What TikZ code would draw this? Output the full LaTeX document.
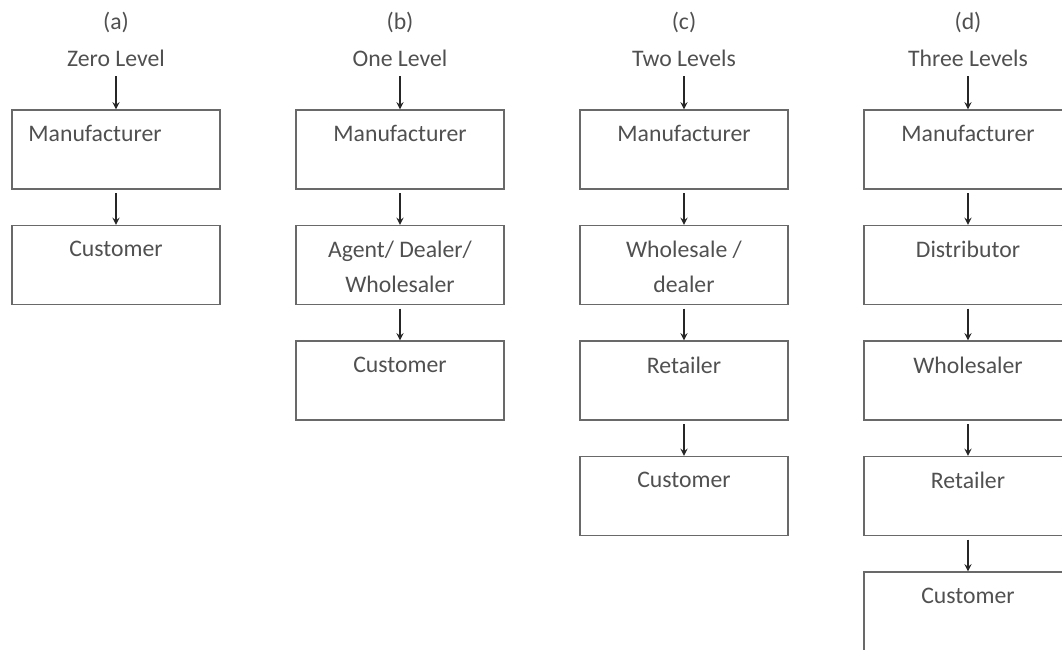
\documentclass[tikz,border=0pt]{standalone}
\usepackage{fontspec}
\setmainfont{Carlito}
\usepackage{tikz}
\usetikzlibrary{arrows,shapes}
\definecolor{grisLinea}{RGB}{105,105,105}
\definecolor{grisTexto}{RGB}{80,80,80}
\tikzstyle{edge}  =[->, >=stealth, shorten <=2pt,
                    line width=0.8pt, black!85]
\tikzstyle{chan}  =[rectangle, draw=grisLinea, line width=0.8pt,
                    minimum width=4.16cm, minimum height=1.58cm,
                    inner sep=0pt]
\tikzstyle{lbl}   =[anchor=north, inner sep=0pt, yshift=-0.32cm,
                    align=center, text=grisTexto]
\tikzstyle{head}  =[text=grisTexto]

\begin{document}
\begin{tikzpicture}[font=\fontsize{13.5}{20}\selectfont]
    \clip (0,0) rectangle (21.24,-13);

    % (a) zero level
    \begin{scope}[xshift=2.32cm]
        \draw (0,-0.44) node(a0)[head]{(a)};
        \draw (0,-1.16) node(aL)[head]{Zero Level};
        \draw (0,-2.99) node(a1)[chan, label={[lbl,xshift=-0.42cm]north:Manufacturer}]{};
        \draw (0,-5.30) node(a2)[chan, label={[lbl]north:Customer}]{};

        \foreach \i/\j in {aL/a1,a1/a2}
            \draw [edge] (\i) to (\j);
    \end{scope}

    % (b) one level
    \begin{scope}[xshift=8.0cm]
        \draw (0,-0.44) node(b0)[head]{(b)};
        \draw (0,-1.16) node(bL)[head]{One Level};
        \draw (0,-2.99) node(b1)[chan, label={[lbl]north:Manufacturer}]{};
        \draw (0,-5.30) node(b2)[chan, label={[lbl]north:{Agent/ Dealer/\\Wholesaler}}]{};
        \draw (0,-7.61) node(b3)[chan, label={[lbl]north:Customer}]{};

        \foreach \i/\j in {bL/b1,b1/b2,b2/b3}
            \draw [edge] (\i) to (\j);
    \end{scope}

    % (c) two levels
    \begin{scope}[xshift=13.68cm]
        \draw (0,-0.44) node(c0)[head]{(c)};
        \draw (0,-1.16) node(cL)[head]{Two Levels};
        \draw (0,-2.99) node(c1)[chan, label={[lbl]north:Manufacturer}]{};
        \draw (0,-5.30) node(c2)[chan, label={[lbl]north:{Wholesale /\\dealer}}]{};
        \draw (0,-7.61) node(c3)[chan, label={[lbl]north:Retailer}]{};
        \draw (0,-9.92) node(c4)[chan, label={[lbl]north:Customer}]{};

        \foreach \i/\j in {cL/c1,c1/c2,c2/c3,c3/c4}
            \draw [edge] (\i) to (\j);
    \end{scope}

    % (d) three levels
    \begin{scope}[xshift=19.36cm]
        \draw (0,-0.44) node(d0)[head]{(d)};
        \draw (0,-1.16) node(dL)[head]{Three Levels};
        \draw (0,-2.99) node(d1)[chan, label={[lbl]north:Manufacturer}]{};
        \draw (0,-5.30) node(d2)[chan, label={[lbl]north:Distributor}]{};
        \draw (0,-7.61) node(d3)[chan, label={[lbl]north:Wholesaler}]{};
        \draw (0,-9.92) node(d4)[chan, label={[lbl]north:Retailer}]{};
        \draw (0,-12.23) node(d5)[chan, label={[lbl]north:Customer}]{};

        \foreach \i/\j in {dL/d1,d1/d2,d2/d3,d3/d4,d4/d5}
            \draw [edge] (\i) to (\j);
    \end{scope}

\end{tikzpicture}
\end{document}
